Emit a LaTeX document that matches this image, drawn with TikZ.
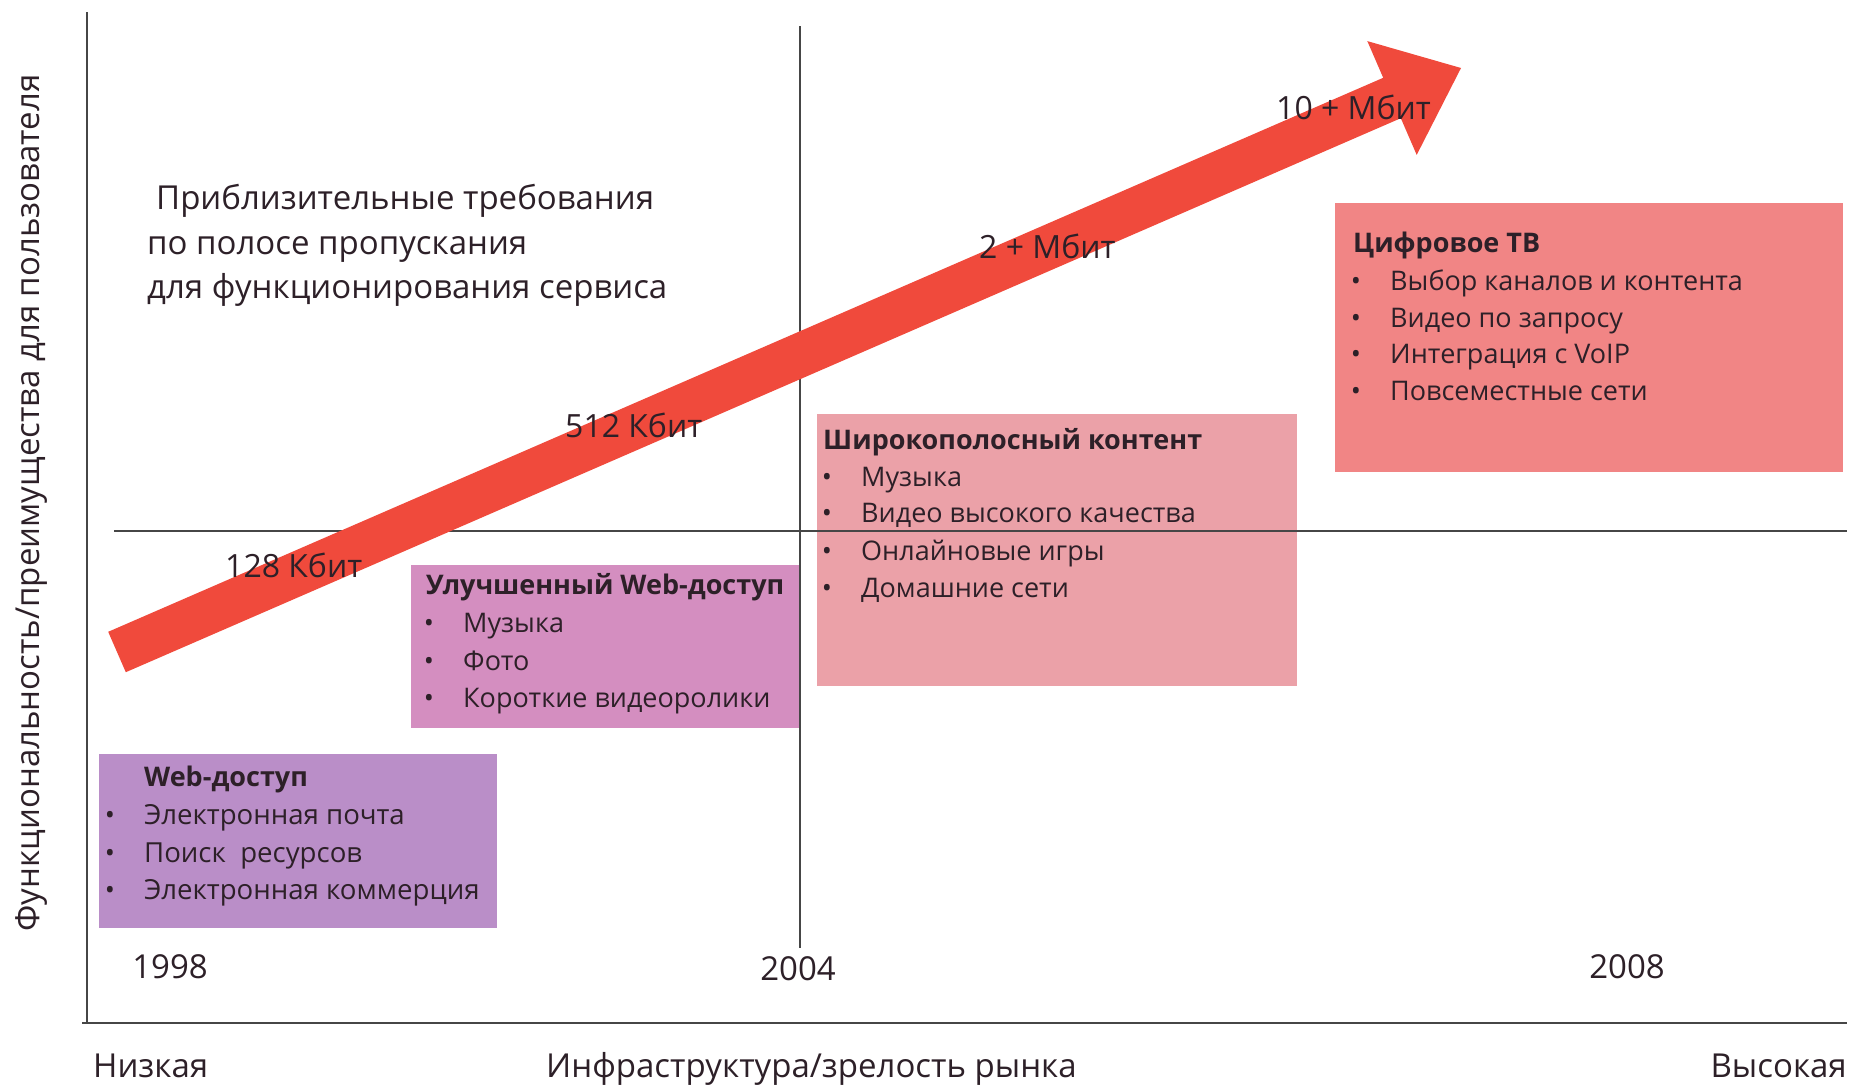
\documentclass[tikz,border=0pt]{standalone}
\usepackage{fontspec}
\setmainfont{Open Sans}
\definecolor{webc}{RGB}{186,142,200}
\definecolor{impc}{RGB}{212,142,192}
\definecolor{broadc}{RGB}{235,161,168}
\definecolor{tvc}{RGB}{241,133,133}
\definecolor{arrowc}{RGB}{240,74,60}
\definecolor{txtc}{RGB}{45,32,40}
\definecolor{axisc}{RGB}{70,70,70}
\tikzset{
  panel/.style={draw=none, inner sep=0, anchor=north west},
  lbl/.style={inner sep=0, anchor=base west, text=txtc},
  item/.style={lbl, font=\fontsize{27}{37}\selectfont},
  witem/.style={lbl, font=\fontsize{27.6}{37}\selectfont},
  head/.style={lbl, font=\fontsize{27}{37}\selectfont\bfseries},
  big/.style={inner sep=0, text=txtc, font=\fontsize{33}{44}\selectfont},
  rate/.style={inner sep=0, anchor=base west, text=txtc, font=\fontsize{32}{40}\selectfont},
  bul/.style={inner sep=0, anchor=base, text=txtc, font=\fontsize{27}{37}\selectfont},
  axisline/.style={draw=axisc, line width=2.4pt},
}
\begin{document}
\begin{tikzpicture}[x=1pt, y=-1pt]
\useasboundingbox (0,0) rectangle (1851,1087);
% panels
\node[panel, fill=webc, minimum width=398, minimum height=174] (web) at (99,754) {};
\node[panel, fill=impc, minimum width=389, minimum height=163] (imp) at (411,565) {};
\node[panel, fill=broadc, minimum width=480, minimum height=272] (broad) at (817,414) {};
\node[panel, fill=tvc, minimum width=508, minimum height=269] (tv) at (1335,203) {};
% axes
\coordinate (o) at (87,1023);
\coordinate (ytop) at (87,12);
\coordinate (xstart) at (82,1023);
\coordinate (xend) at (1847,1023);
\coordinate (hl) at (114,531);
\coordinate (hr) at (1847,531);
\coordinate (vt) at (800,26);
\coordinate (vb) at (800,948);
\draw[axisline] (ytop) -- (o);
\draw[axisline] (xstart) -- (xend);
\draw[axisline, line width=2pt] (hl) -- (hr);
\draw[axisline, line width=2pt] (vt) -- (vb);
% arrow
\fill[arrowc] (108.2,631.8) -- (1383.2,77.8) -- (1367.3,41.1) -- (1461,68) -- (1416.7,154.9) -- (1400.8,118.2) -- (125.8,672.2) -- cycle;
% rate labels
\node[rate] (r1) at (225,577) {128 Кбит};
\node[rate] (r2) at (565,437) {512 Кбит};
\node[rate] (r3) at (979,258) {2 + Мбит};
\node[rate] (r4) at (1276,119) {10 + Мбит};
% heading text
\node[big, anchor=base west] (t1) at (156,209) {Приблизительные требования};
\node[big, anchor=base west] (t2) at (147,254) {по полосе пропускания};
\node[big, anchor=base west] (t3) at (147,298) {для функционирования сервиса};
% web box
\node[head] (webh) at (144,786) {Web-доступ};
\foreach \y/\t in {824/Электронная почта, 862/Поиск\ \ ресурсов, 899/Электронная коммерция}{
  \node[bul] at (110,\y) {•};
  \node[witem] at (144,\y) {\t};
}
% improved
\node[head] (imph) at (426,594) {Улучшенный Web-доступ};
\foreach \y/\t in {632/Музыка, 670/Фото, 707/Короткие видеоролики}{
  \node[bul] at (429,\y) {•};
  \node[item] at (463,\y) {\t};
}
% broadband
\node[head] (broadh) at (823,449) {Широкополосный контент};
\foreach \y/\t in {486/Музыка, 522/Видео высокого качества, 560/Онлайновые игры, 597/Домашние сети}{
  \node[bul] at (827,\y) {•};
  \node[item] at (861,\y) {\t};
}
% tv
\node[head] (tvh) at (1353,252) {Цифровое ТВ};
\foreach \y/\t in {290/Выбор каналов и контента, 327/Видео по запросу, 363/Интеграция с VoIP, 400/Повсеместные сети}{
  \node[bul] at (1356,\y) {•};
  \node[item] at (1390,\y) {\t};
}
% years
\node[big, anchor=base] (y1) at (170,978) {1998};
\node[big, anchor=base] (y2) at (798,980) {2004};
\node[big, anchor=base] (y3) at (1627,978) {2008};
% axis labels
\node[big, anchor=base west] (lo) at (93,1077) {Низкая};
\node[big, anchor=base west] (mid) at (546,1077) {Инфраструктура/зрелость рынка};
\node[big, anchor=base east] (hi) at (1847,1077) {Высокая};
\node[big, rotate=90, anchor=center] (ylab) at (32,503) {Функциональность/преимущества для пользователя};
\end{tikzpicture}
\end{document}
